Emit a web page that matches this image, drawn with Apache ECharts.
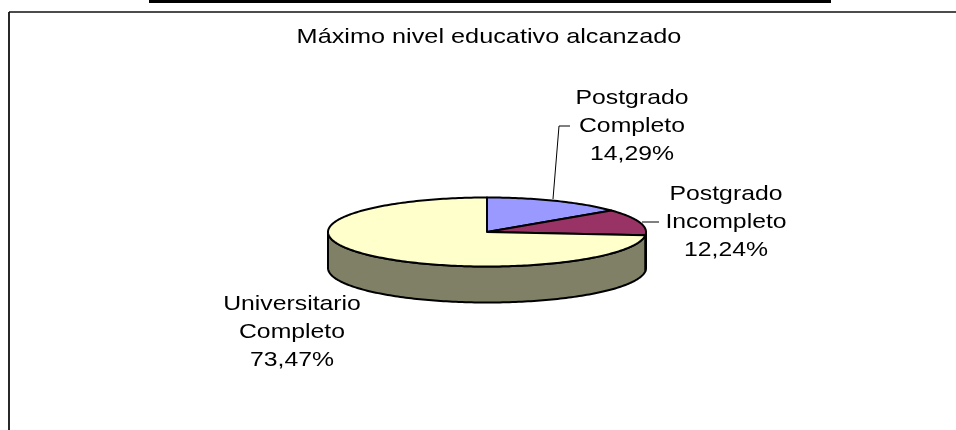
<!DOCTYPE html>
<html><head><meta charset="utf-8">
<style>html,body{margin:0;padding:0;background:#fff}#c{width:956px;height:430px}</style>
<script src="https://cdn.jsdelivr.net/npm/echarts@6/dist/echarts.min.js"></script>
</head><body><div id="c"></div>
<script>
const categories = ["Postgrado\nCompleto", "Postgrado\nIncompleto", "Universitario\nCompleto"];
const values = [14.29, 12.24, 73.47];
const valueLabels = ["14,29%", "12,24%", "73,47%"];
const chartTitle = "Máximo nivel educativo alcanzado";
const topColors = ["#9999FF", "#993366", "#FFFFCC"];
const sideColors = ["#4D4D80", "#000000", "#808066"];

// Layout of the drawing, separate from the data
const CX = 487, CY = 232, RX = 159, RY = 34.5, DEPTH = 36;
const labelPos = [[632, 126], [726, 222.5], [292, 332.5]];
const leaders = [[[553, 199], [559, 126], [570, 126]], [[642, 222], [659, 222]], []];
const STRETCH = 1.18;

const total = values.reduce((a, b) => a + b, 0);
function pt(a, dy) { return [CX + RX * Math.sin(a), CY - RY * Math.cos(a) + (dy || 0)]; }
function range(i) {
  let s = 0;
  for (let k = 0; k < i; k++) s += values[k];
  return [s / total * Math.PI * 2, (s + values[i]) / total * Math.PI * 2];
}
function arc(a0, a1, dy) {
  const n = Math.max(2, Math.ceil((a1 - a0) / 0.02)), out = [];
  for (let j = 0; j <= n; j++) out.push(pt(a0 + (a1 - a0) * j / n, dy));
  return out;
}
const rows = values.map((v, i) => ({ value: [v, i], name: categories[i] }));
const stroke = { stroke: "#000", lineWidth: 2, lineJoin: "round" };

const chart = echarts.init(document.getElementById("c"), null, { renderer: "canvas" });
chart.setOption({
  animation: false,
  backgroundColor: "#fff",
  graphic: [
    { type: "rect", shape: { x: 149, y: 0, width: 682, height: 3 }, style: { fill: "#000" } },
    { type: "line", shape: { x1: 9, y1: 12, x2: 956, y2: 12 }, style: { stroke: "#111", lineWidth: 1.6 } },
    { type: "line", shape: { x1: 9, y1: 12, x2: 9, y2: 430 }, style: { stroke: "#111", lineWidth: 1.8 } },
    {
      type: "text", x: 489, y: 37.5, scaleX: 1.203,
      style: { x: 0, y: 0, text: chartTitle, align: "center", verticalAlign: "middle", font: "21px 'Liberation Sans'", fill: "#000" }
    }
  ],
  series: [
    { // side wall
      type: "custom", coordinateSystem: "none", z: 2, silent: true, data: rows,
      renderItem(p, api) {
        const i = api.value(1), [a0, a1] = range(i);
        const s = Math.max(a0, Math.PI / 2), e = Math.min(a1, Math.PI * 1.5);
        if (e <= s) return { type: "group", children: [] };
        const pts = arc(s, e, 0).concat(arc(s, e, DEPTH).reverse());
        return { type: "polygon", shape: { points: pts }, style: { fill: sideColors[i], ...stroke } };
      }
    },
    { // top face
      type: "custom", coordinateSystem: "none", z: 3, silent: true, data: rows,
      renderItem(p, api) {
        const i = api.value(1), [a0, a1] = range(i);
        const pts = [[CX, CY]].concat(arc(a0, a1, 0));
        return { type: "polygon", shape: { points: pts }, style: { fill: topColors[i], ...stroke } };
      }
    },
    { // leaders and labels
      type: "custom", coordinateSystem: "none", z: 4, silent: true, data: rows,
      renderItem(p, api) {
        const i = api.value(1), ch = [];
        if (leaders[i].length) ch.push({ type: "polyline", shape: { points: leaders[i] }, style: { stroke: "#000", lineWidth: 1, fill: null } });
        ch.push({
          type: "text", x: labelPos[i][0], y: labelPos[i][1], scaleX: STRETCH,
          style: {
            x: 0, y: 0, text: categories[i] + "\n" + valueLabels[i],
            align: "center", verticalAlign: "middle", lineHeight: 28,
            font: "21px 'Liberation Sans'", fill: "#000"
          }
        });
        return { type: "group", children: ch };
      }
    }
  ]
});
</script></body></html>
